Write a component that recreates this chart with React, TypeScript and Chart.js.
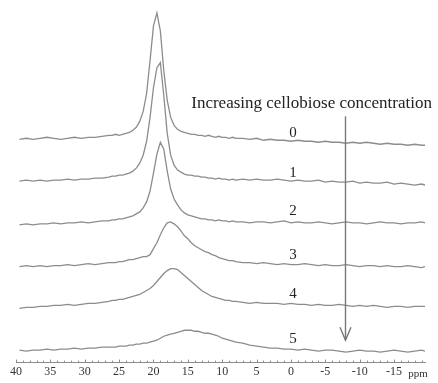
import React, { useEffect, useRef } from "react";
import { Chart, registerables } from "chart.js";

Chart.register(...registerables);

// Chemical shift grid (ppm), shared by all spectra
const PPM = [
  39.5, 38.5, 37.5, 36.5, 35.5, 34.5, 33.5, 32.5, 31.5, 30.5, 29.5, 28.5, 27.5, 26.5,
  26, 25.5, 25, 24.5, 24, 23.5, 23, 22.5, 22, 21.5, 21, 20.5, 20, 19.5, 19, 18.5, 18, 17.5,
  17, 16.5, 16, 15.5, 15, 14.5, 14, 13.5, 13, 12.5, 12, 11.5, 11, 10.5, 10, 9.5, 9, 8.5, 8,
  7, 6, 5, 4, 3, 2, 1, 0, -1, -2, -3, -4, -5, -6, -7, -8, -9, -10, -11, -12, -13, -14,
  -15, -16, -17, -18, -19, -19.5,
];

// Intensities (arbitrary units) of each spectrum
const TRACE_0 = [
  6, 7, 6, 7, 8, 7, 6, 7, 8, 7, 8, 8, 9, 10,
  10, 11, 10, 11, 12, 13, 15, 18, 24, 34, 52, 85, 120, 133, 115, 75, 45, 28,
  20, 16, 14, 13, 12, 11, 11, 10, 10, 9, 10, 9, 8, 9, 8, 8, 7, 8, 7,
  7, 6, 7, 5, 6, 5, 5, 4, 5, 4, 4, 3, 4, 3, 3, 2, 3, 2, 3, 2, 1, 2, 1, 1, 0, 1, 0, 0,
];
const TRACE_1 = [
  4, 5, 4, 5, 4, 5, 5, 6, 5, 6, 6, 7, 7, 8,
  9, 9, 10, 10, 11, 12, 14, 17, 22, 30, 44, 68, 98, 118, 123, 90, 52, 30,
  20, 15, 13, 11, 10, 10, 9, 9, 8, 8, 7, 7, 6, 7, 6, 6, 5, 6, 5,
  6, 5, 6, 5, 5, 6, 5, 4, 5, 4, 4, 5, 3, 4, 3, 3, 4, 2, 3, 2, 2, 3, 1, 2, 1, 0, 1, 0,
];
const TRACE_2 = [
  -2, -1, -2, -1, -1, 0, -1, 0, 0, 1, 0, 1, 2, 2,
  3, 3, 4, 4, 5, 6, 7, 9, 11, 15, 21, 32, 50, 69, 81, 74, 52, 34,
  24, 18, 13, 10, 8, 7, 6, 5, 4, 4, 3, 3, 2, 3, 2, 2, 1, 2, 1,
  1, 0, 1, 1, 0, 1, 2, 0, 1, 0, 0, 1, 0, -1, 0, 1, 0, 0, -1, 0, 1, 0, 0, -1, 0, 0, 1, 0,
];
const TRACE_3 = [
  0, 1, 0, 1, 0, 1, 1, 2, 1, 2, 3, 2, 3, 4,
  4, 4, 5, 5, 6, 7, 7, 8, 9, 10, 10, 12, 18, 24, 32, 39, 44, 45,
  43, 40, 36, 31, 28, 24, 21, 19, 17, 15, 14, 12, 11, 9, 8, 7, 6, 6, 5,
  4, 4, 3, 4, 3, 2, 3, 2, 2, 3, 2, 1, 2, 1, 1, 2, 1, 0, 1, 1, 0, 1, 0, 0, 1, 0, -1, 0,
];
const TRACE_4 = [
  -2, -1, -1, 0, 0, 1, 1, 2, 1, 2, 3, 3, 4, 5,
  6, 6, 7, 7, 8, 9, 10, 11, 12, 14, 16, 18, 21, 25, 29, 33, 36, 38,
  38, 37, 34, 31, 28, 25, 22, 19, 16, 14, 12, 10, 9, 8, 7, 6, 6, 5, 5,
  4, 3, 4, 3, 3, 3, 2, 3, 2, 2, 1, 2, 1, 1, 2, 1, 0, 1, 0, 1, 0, -1, 0, 0, -1, 0, 0, 0,
];
const TRACE_5 = [
  1, 0, 1, 1, 2, 1, 2, 2, 3, 2, 3, 3, 4, 4,
  4, 4, 5, 5, 5, 6, 6, 7, 7, 8, 8, 9, 10, 11, 13, 15, 16, 17,
  18, 19, 20, 21, 21, 21, 20, 20, 19, 18, 18, 17, 16, 15, 13, 12, 11, 10, 9,
  8, 6, 5, 4, 3, 3, 2, 2, 1, 2, 1, 0, 1, 1, 0, -1, 0, 1, 0, 0, -1, 0, 1, 0, -1, 0, 1, 0,
];

const SERIES_NAMES = ["0", "1", "2", "3", "4", "5"];
// Vertical stacking offset of each spectrum
const OFFSETS = [218.5, 178.5, 140.5, 96.5, 56.5, 11.5];
const TICK_VALUES = [40, 35, 30, 25, 20, 15, 10, 5, 0, -5, -10, -15];
const ANNOTATION = "Increasing cellobiose concentration";
const UNIT = "ppm";

const SERIF = "'Liberation Serif', 'Times New Roman', serif";
const LINE_COLOR = "#8c8c8c";

export default function App() {
  const ref = useRef<HTMLCanvasElement>(null);

  useEffect(() => {
    if (!ref.current) return;
    const traces = [TRACE_0, TRACE_1, TRACE_2, TRACE_3, TRACE_4, TRACE_5];

    const overlay = {
      id: "overlay",
      afterDraw(chart: any) {
        const { ctx, scales } = chart;
        const x = scales.x;
        const y = scales.y;
        const axisY = chart.chartArea.bottom;
        ctx.save();

        // minor ticks on the axis
        ctx.strokeStyle = LINE_COLOR;
        ctx.lineWidth = 1;
        for (let v = -19; v <= 40; v++) {
          const px = Math.round(x.getPixelForValue(v)) + 0.5;
          const len = v % 5 === 0 ? 3 : 2;
          ctx.beginPath();
          ctx.moveTo(px, axisY);
          ctx.lineTo(px, axisY - len);
          ctx.stroke();
        }

        // series labels
        ctx.fillStyle = "#222";
        ctx.font = `15px ${SERIF}`;
        ctx.textAlign = "center";
        ctx.textBaseline = "middle";
        SERIES_NAMES.forEach((name, i) => {
          ctx.fillText(name, x.getPixelForValue(-0.3), y.getPixelForValue(OFFSETS[i] + 12));
        });

        // arrow
        const ax = Math.round(x.getPixelForValue(-7.8)) + 0.5;
        const top = y.getPixelForValue(OFFSETS[0] + 29);
        const tip = y.getPixelForValue(OFFSETS[5] + 11);
        ctx.strokeStyle = "#777";
        ctx.lineWidth = 1.4;
        ctx.beginPath();
        ctx.moveTo(ax, top);
        ctx.lineTo(ax, tip);
        ctx.stroke();
        ctx.beginPath();
        ctx.moveTo(ax - 5.5, tip - 13);
        ctx.lineTo(ax, tip);
        ctx.lineTo(ax + 5.5, tip - 13);
        ctx.stroke();

        // annotation text
        ctx.fillStyle = "#222";
        ctx.font = `17px ${SERIF}`;
        ctx.textAlign = "center";
        ctx.fillText(ANNOTATION, x.getPixelForValue(-3), y.getPixelForValue(OFFSETS[0] + 42));

        // unit
        ctx.font = `11px ${SERIF}`;
        ctx.fillStyle = "#333";
        ctx.fillText(UNIT, x.getPixelForValue(-18.5), axisY + 12);
        ctx.restore();
      },
    };

    const chart = new Chart(ref.current, {
      type: "line",
      data: {
        datasets: traces.map((t, i) => ({
          label: SERIES_NAMES[i],
          data: PPM.map((p, j) => ({ x: p, y: OFFSETS[i] + t[j] })),
          borderColor: LINE_COLOR,
          borderWidth: 1.3,
          pointRadius: 0,
          fill: false,
          tension: 0,
        })),
      },
      options: {
        animation: false,
        responsive: false,
        devicePixelRatio: 1,
        layout: { padding: { left: 16, right: 13, top: 0, bottom: 2 } },
        plugins: { legend: { display: false }, tooltip: { enabled: false } },
        scales: {
          x: {
            type: "linear",
            reverse: true,
            min: -19.5,
            max: 40,
            afterBuildTicks: (scale: any) => {
              scale.ticks = TICK_VALUES.map((v) => ({ value: v }));
            },
            grid: { display: false, drawTicks: false },
            border: { display: true, color: LINE_COLOR, width: 1 },
            ticks: {
              includeBounds: false,
              autoSkip: false,
              maxRotation: 0,
              padding: 2,
              color: "#333",
              font: { family: SERIF, size: 12 },
              callback: (v: any) => String(v),
            },
          },
          y: { display: false, min: 0, max: 364.5 },
        },
      },
      plugins: [overlay],
    } as any);

    return () => chart.destroy();
  }, []);

  return (
    <div style={{ position: "absolute", left: 0, top: 0, width: 438, height: 383, background: "#fff" }}>
      <canvas ref={ref} width={438} height={383} style={{ display: "block" }} />
    </div>
  );
}
